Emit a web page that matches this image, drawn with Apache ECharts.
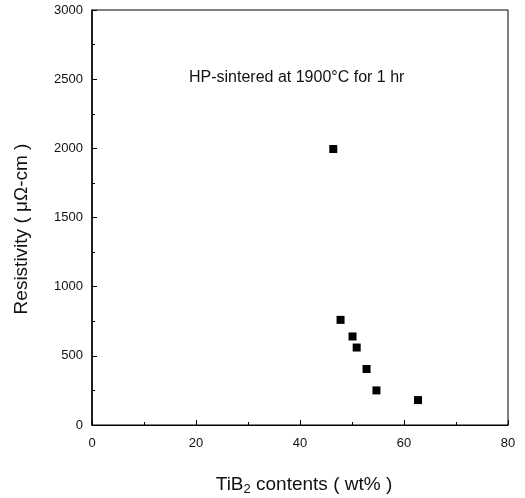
<!DOCTYPE html>
<html>
<head>
<meta charset="utf-8">
<script src="https://cdn.jsdelivr.net/npm/echarts@6/dist/echarts.min.js"></script>
<style>
  html, body { margin: 0; padding: 0; background: #fff; }
  #chart { width: 525px; height: 498px; }
</style>
</head>
<body>
<div id="chart"></div>
<script>
// TiB2 content (wt%) vs resistivity (uOhm-cm)
const tib2 = [46.4, 47.8, 50.1, 50.9, 52.8, 54.7, 62.7];
const resistivity = [1995, 760, 640, 560, 405, 250, 180];
const xTicks = [0, 20, 40, 60, 80];
const yTicks = [0, 500, 1000, 1500, 2000, 2500, 3000];

const font = 'Liberation Sans, Arial, sans-serif';
const chart = echarts.init(document.getElementById('chart'));

const points = tib2.map((x, i) => [x, resistivity[i]]);

chart.setOption({
  animation: false,
  grid: {
    left: 92, right: 17, top: 10, bottom: 73,
    outerBoundsMode: 'none',
    show: true, borderColor: '#000', borderWidth: 1
  },
  xAxis: {
    type: 'value',
    min: xTicks[0], max: xTicks[xTicks.length - 1], interval: 20,
    name: 'TiB{sub|2} contents ( wt% )',
    nameLocation: 'middle', nameGap: 48,
    nameTextStyle: {
      fontFamily: font, fontSize: 19, color: '#111', padding: [0, 0, 0, 8],
      rich: { sub: { fontFamily: font, fontSize: 13, color: '#111', verticalAlign: 'bottom', padding: [10, 0, 0, 0] } }
    },
    axisLine: { lineStyle: { color: '#000', width: 1 } },
    axisTick: { inside: true, length: 5, lineStyle: { color: '#000' } },
    minorTick: { show: true, splitNumber: 2, length: 3, lineStyle: { color: '#000' } },
    axisLabel: { fontFamily: font, fontSize: 13, color: '#111', margin: 12, formatter: v => String(v) },
    splitLine: { show: false }
  },
  yAxis: {
    type: 'value',
    min: yTicks[0], max: yTicks[yTicks.length - 1], interval: 500,
    axisLine: { lineStyle: { color: '#000', width: 1.5 } },
    axisTick: { inside: true, length: 5, lineStyle: { color: '#000' } },
    minorTick: { show: true, splitNumber: 2, length: 3, lineStyle: { color: '#000' } },
    axisLabel: { fontFamily: font, fontSize: 13, color: '#111', margin: 9, formatter: v => String(v) },
    splitLine: { show: false }
  },
  graphic: [{
    type: 'text',
    left: 189, top: 70,
    style: {
      text: 'HP-sintered at 1900\u00b0C for 1 hr',
      fontFamily: font, fontSize: 16, fill: '#111'
    }
  }, {
    type: 'text',
    x: 22, y: 229,
    rotation: Math.PI / 2,
    style: {
      text: 'Resistivity ( \u03bc\u03a9-cm )',
      fontFamily: font, fontSize: 19, fill: '#111',
      align: 'center', verticalAlign: 'middle'
    }
  }],
  series: [{
    type: 'scatter',
    data: points,
    symbol: 'rect',
    symbolSize: 8,
    itemStyle: { color: '#000', opacity: 1 }
  }]
});
</script>
</body>
</html>
